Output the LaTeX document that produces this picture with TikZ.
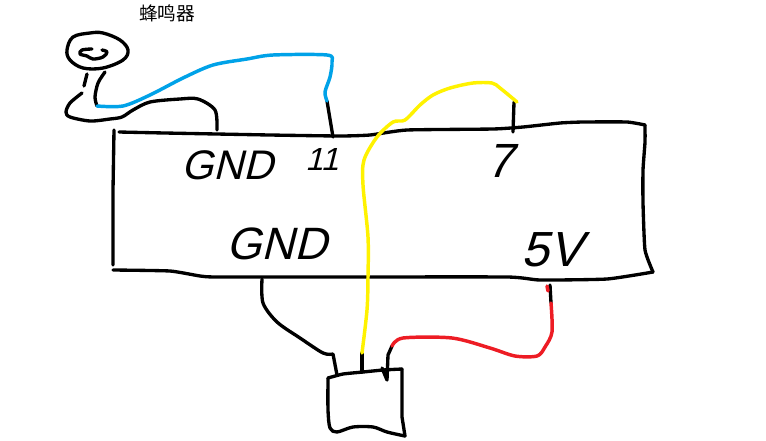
\documentclass[tikz,border=0pt]{standalone}
\usepackage{fontspec}
\setmainfont{Liberation Sans}
\newfontfamily\cjk{Noto Sans CJK SC}
\newfontfamily\hand[FakeSlant=0.25]{Liberation Sans}
\definecolor{paintblue}{RGB}{0,162,232}
\definecolor{paintyellow}{RGB}{255,242,0}
\definecolor{paintred}{RGB}{237,28,36}
\tikzstyle{ink} = [draw, black, line width=2.5pt, line cap=round, line join=round]
\tikzstyle{wire} = [ink, line width=2.6pt]
\tikzstyle{pinlabel} = [inner sep=0pt, font=\hand\fontsize{31}{31}\selectfont]

\begin{document}
\begin{tikzpicture}[x=0.75pt,y=-0.75pt]

	\useasboundingbox (0,0) rectangle (766,440);

	\node[inner sep=0pt, font=\cjk\fontsize{14}{14}\selectfont] (buzzername) at (167,13) {蜂鸣器};

	\node[pinlabel] (gndtop) at (227,165) {GND};
	\node[pinlabel, font=\hand\fontsize{24}{24}\selectfont] (pineleven) at (322,159) {11};
	\node[pinlabel, font=\hand\fontsize{36}{36}\selectfont] (pinseven) at (500,161) {7};
	\node[pinlabel, font=\hand\fontsize{34}{34}\selectfont] (gndbottom) at (277,244) {GND};
	\node[pinlabel, font=\hand\fontsize{37}{37}\selectfont] (fivevolt) at (552,250) {5V};

	% buzzer
	\draw[ink] plot[smooth cycle, tension=0.6] coordinates {(67,50) (73,37) (90,33) (103,33) (120,40) (128,50) (123,60) (103,68) (83,68) (70,60)};
	\draw[ink] plot[smooth, tension=0.6] coordinates {(92,49) (82,50) (80,54) (87,56) (93,59) (103,57) (107,52) (102,50)};
	\draw[ink] (87,74) -- (84,86);
	\draw[ink] plot[smooth, tension=0.5] coordinates {(82,93) (70,103) (66,112) (70,117) (90,121) (110,119) (122,117) (133,110) (150,102) (180,99) (198,99) (215,110) (217,130)};
	\draw[ink] plot[smooth, tension=0.5] coordinates {(105,72) (98,83) (95,97) (97,106)};

	% main board
	\draw[ink] (114,130) -- (113,190) -- (113,265);
	\draw[ink] plot[smooth, tension=0.3] coordinates {(119,132) (165,133) (270,135) (340,136) (370,135) (407,130) (493,129) (523,127) (560,123) (583,122) (627,122) (645,125)};
	\draw[ink] plot[smooth, tension=0.3] coordinates {(645,125) (645,142) (643,170) (643,203) (645,250) (653,272)};
	\draw[ink] plot[smooth, tension=0.3] coordinates {(653,272) (607,279) (540,280) (507,277) (340,277) (217,277) (200,276) (170,271) (113,270)};

	% small module
	\draw[ink] plot[smooth, tension=0.3] coordinates {(328,378) (343,374) (363,372) (383,370) (402,369)};
	\draw[ink] (402,369) -- (402,417) -- (405,436);
	\draw[ink] plot[smooth, tension=0.5] coordinates {(405,436) (387,432) (373,427) (353,427) (337,432) (330,428) (328,410) (328,378)};

	% wires
	\draw[ink] plot[smooth, tension=0.5] coordinates {(262,279) (263,303) (277,322) (300,338) (323,353) (333,354)} -- (337,375);
	\draw[ink] (327,101) -- (333,137);
	\draw[ink] (514,102) -- (513,132);
	\draw[ink] (362,353) -- (362,372);
	\draw[ink] (550,285) -- (551,303);
	\draw[ink] (392,346) -- (388,355) -- (387,380) -- (382,368);

	\draw[wire, paintblue] plot[smooth, tension=0.5] coordinates {(97,106) (123,106) (150,95) (183,78) (213,65) (247,59) (273,55) (327,55) (332,62) (330,77) (325,92) (327,101)};
	\draw[wire, paintyellow] plot[smooth, tension=0.5] coordinates {(517,102) (500,88) (492,83) (473,83) (450,88) (433,95) (420,105) (405,120) (393,122) (377,137) (364,160) (363,185) (368,237) (368,277) (367,310) (362,353)};
	\draw[wire, paintred] plot[smooth, tension=0.5] coordinates {(551,303) (552,332) (545,347) (537,356) (515,356) (490,348) (452,338) (403,338) (392,346)};
	\draw[wire, paintred] (547,286) -- (548,291);

\end{tikzpicture}
\end{document}
